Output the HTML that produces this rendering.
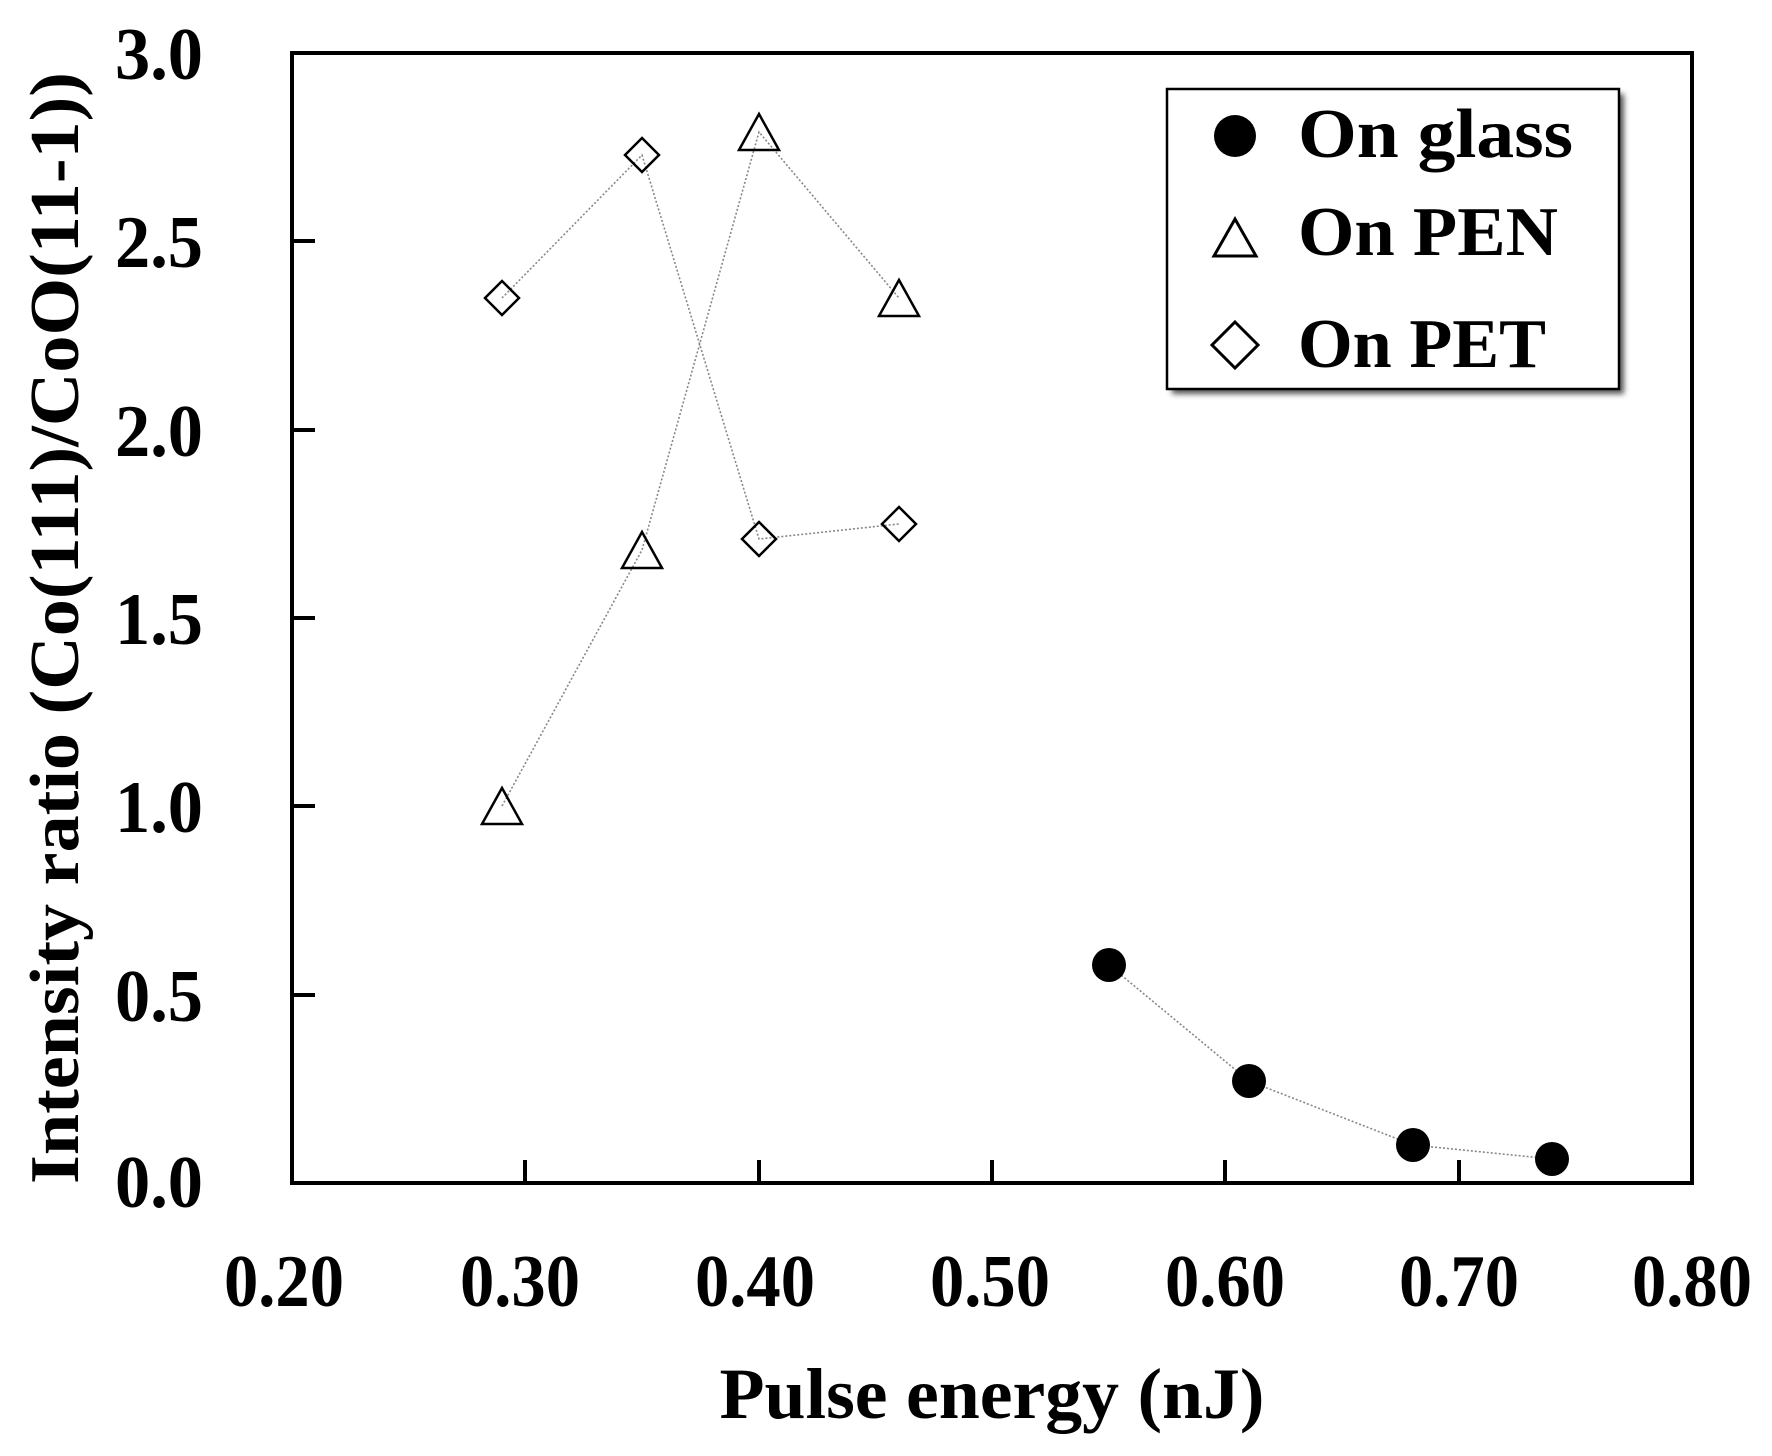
<!DOCTYPE html>
<html><head><meta charset="utf-8"><style>
html,body{margin:0;padding:0;background:#fff;}
svg{display:block;}
text{font-family:"Liberation Serif",serif;font-weight:bold;fill:#000;}
</style></head><body>
<svg width="1772" height="1456" viewBox="0 0 1772 1456" xmlns="http://www.w3.org/2000/svg">
<defs>
<filter id="sh" x="-10%" y="-10%" width="130%" height="130%"><feGaussianBlur stdDeviation="3"/></filter>
</defs>
<rect x="292" y="53" width="1400" height="1130" fill="none" stroke="#000" stroke-width="4"/>
<g stroke="#000" stroke-width="4">
<line x1="525" y1="1183" x2="525" y2="1160"/>
<line x1="759" y1="1183" x2="759" y2="1160"/>
<line x1="992" y1="1183" x2="992" y2="1160"/>
<line x1="1225" y1="1183" x2="1225" y2="1160"/>
<line x1="1459" y1="1183" x2="1459" y2="1160"/>
<line x1="292" y1="241" x2="315" y2="241"/>
<line x1="292" y1="430" x2="315" y2="430"/>
<line x1="292" y1="618" x2="315" y2="618"/>
<line x1="292" y1="806" x2="315" y2="806"/>
<line x1="292" y1="995" x2="315" y2="995"/>
</g>
<g font-size="74" text-anchor="end">
<text x="203" y="79" textLength="88" lengthAdjust="spacingAndGlyphs">3.0</text>
<text x="203" y="267" textLength="88" lengthAdjust="spacingAndGlyphs">2.5</text>
<text x="203" y="456" textLength="88" lengthAdjust="spacingAndGlyphs">2.0</text>
<text x="203" y="644" textLength="88" lengthAdjust="spacingAndGlyphs">1.5</text>
<text x="203" y="832" textLength="88" lengthAdjust="spacingAndGlyphs">1.0</text>
<text x="203" y="1021" textLength="88" lengthAdjust="spacingAndGlyphs">0.5</text>
<text x="203" y="1207" textLength="88" lengthAdjust="spacingAndGlyphs">0.0</text>
</g>
<g font-size="74" text-anchor="middle">
<text x="284" y="1306" textLength="120" lengthAdjust="spacingAndGlyphs">0.20</text>
<text x="520" y="1306" textLength="120" lengthAdjust="spacingAndGlyphs">0.30</text>
<text x="755" y="1306" textLength="120" lengthAdjust="spacingAndGlyphs">0.40</text>
<text x="990" y="1306" textLength="120" lengthAdjust="spacingAndGlyphs">0.50</text>
<text x="1225" y="1306" textLength="120" lengthAdjust="spacingAndGlyphs">0.60</text>
<text x="1459" y="1306" textLength="120" lengthAdjust="spacingAndGlyphs">0.70</text>
<text x="1692" y="1306" textLength="120" lengthAdjust="spacingAndGlyphs">0.80</text>
</g>
<text x="992" y="1418" font-size="72" text-anchor="middle" textLength="545" lengthAdjust="spacingAndGlyphs">Pulse energy (nJ)</text>
<text transform="translate(78,628) rotate(-90)" font-size="70" text-anchor="middle" textLength="1112" lengthAdjust="spacingAndGlyphs">Intensity ratio (Co(111)/CoO(11-1))</text>
<g fill="none" stroke="#888" stroke-width="1.6" stroke-dasharray="2 2">
<polyline points="1109,965 1249,1081 1413,1145 1552,1159"/>
<polyline points="502,806 642,550 759,132 899,298"/>
<polyline points="502,298 642,155 759,539 899,524"/>
</g>
<g fill="#000">
<circle cx="1109" cy="965" r="17"/>
<circle cx="1249" cy="1081" r="17"/>
<circle cx="1413" cy="1145" r="17"/>
<circle cx="1552" cy="1159" r="17"/>
</g>
<g fill="none" stroke="#000" stroke-width="2.5">
<polygon points="502,788 522,824 482,824"/>
<polygon points="642,532 662,568 622,568"/>
<polygon points="759,114 779,150 739,150"/>
<polygon points="899,280 919,316 879,316"/>
</g>
<g fill="none" stroke="#000" stroke-width="2.5">
<polygon points="502,281 519,298 502,315 485,298"/>
<polygon points="642,138 659,155 642,172 625,155"/>
<polygon points="759,522 776,539 759,556 742,539"/>
<polygon points="899,507 916,524 899,541 882,524"/>
</g>
<rect x="1172" y="94" width="452" height="300" fill="#555" filter="url(#sh)"/>
<rect x="1167" y="89" width="452" height="300" fill="#fff" stroke="#000" stroke-width="2.5"/>
<circle cx="1235" cy="136" r="21" fill="#000"/>
<polygon points="1235,219 1256,256 1214,256" fill="none" stroke="#000" stroke-width="3"/>
<polygon points="1235,322 1258,345 1235,368 1212,345" fill="none" stroke="#000" stroke-width="3"/>
<g font-size="70">
<text x="1298" y="157" textLength="275" lengthAdjust="spacingAndGlyphs">On glass</text>
<text x="1298" y="255" textLength="260" lengthAdjust="spacingAndGlyphs">On PEN</text>
<text x="1298" y="367" textLength="248" lengthAdjust="spacingAndGlyphs">On PET</text>
</g>
</svg>
</body></html>
